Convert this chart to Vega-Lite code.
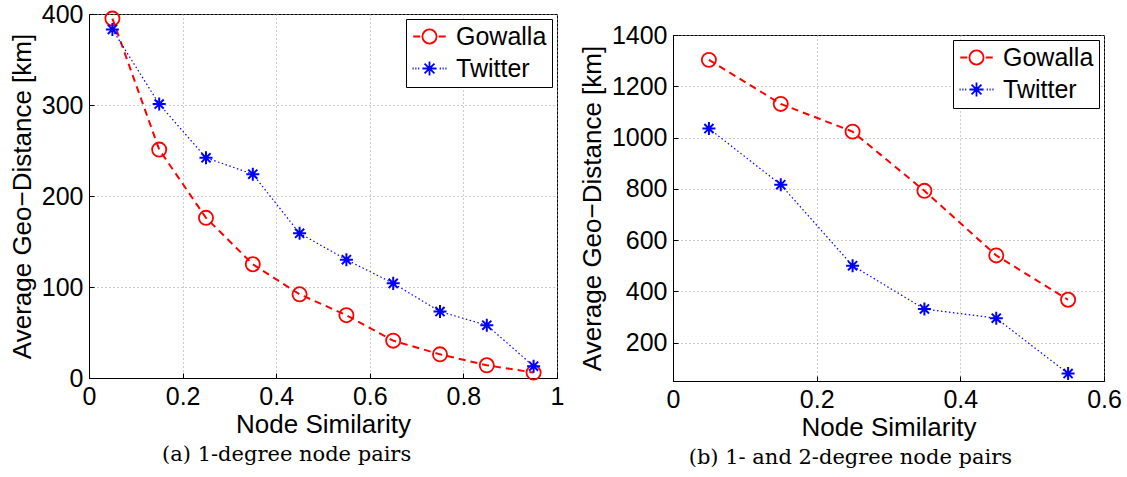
{
  "$schema": "https://vega.github.io/schema/vega-lite/v6.json",
  "padding": {"left": 8, "top": 1, "right": 2, "bottom": 2},
  "background": "white",
  "datasets": {
    "a": [
      {"sim": 0.05, "dist": 395, "series": "Gowalla"},
      {"sim": 0.15, "dist": 251, "series": "Gowalla"},
      {"sim": 0.25, "dist": 176, "series": "Gowalla"},
      {"sim": 0.35, "dist": 125, "series": "Gowalla"},
      {"sim": 0.45, "dist": 92, "series": "Gowalla"},
      {"sim": 0.55, "dist": 69, "series": "Gowalla"},
      {"sim": 0.65, "dist": 41, "series": "Gowalla"},
      {"sim": 0.75, "dist": 26, "series": "Gowalla"},
      {"sim": 0.85, "dist": 14, "series": "Gowalla"},
      {"sim": 0.95, "dist": 6, "series": "Gowalla"},
      {"sim": 0.05, "dist": 383, "series": "Twitter"},
      {"sim": 0.15, "dist": 301, "series": "Twitter"},
      {"sim": 0.25, "dist": 242, "series": "Twitter"},
      {"sim": 0.35, "dist": 224, "series": "Twitter"},
      {"sim": 0.45, "dist": 159, "series": "Twitter"},
      {"sim": 0.55, "dist": 130, "series": "Twitter"},
      {"sim": 0.65, "dist": 104, "series": "Twitter"},
      {"sim": 0.75, "dist": 73, "series": "Twitter"},
      {"sim": 0.85, "dist": 58, "series": "Twitter"},
      {"sim": 0.95, "dist": 13, "series": "Twitter"}
    ],
    "b": [
      {"sim": 0.05, "dist": 1303, "series": "Gowalla"},
      {"sim": 0.15, "dist": 1131, "series": "Gowalla"},
      {"sim": 0.25, "dist": 1023, "series": "Gowalla"},
      {"sim": 0.35, "dist": 792, "series": "Gowalla"},
      {"sim": 0.45, "dist": 540, "series": "Gowalla"},
      {"sim": 0.55, "dist": 367, "series": "Gowalla"},
      {"sim": 0.05, "dist": 1035, "series": "Twitter"},
      {"sim": 0.15, "dist": 816, "series": "Twitter"},
      {"sim": 0.25, "dist": 500, "series": "Twitter"},
      {"sim": 0.35, "dist": 331, "series": "Twitter"},
      {"sim": 0.45, "dist": 295, "series": "Twitter"},
      {"sim": 0.55, "dist": 79, "series": "Twitter"}
    ]
  },
  "config": {
    "font": "Liberation Sans",
    "view": {"stroke": "black", "strokeWidth": 1},
    "axis": {
      "labelFont": "Liberation Sans",
      "titleFont": "Liberation Sans",
      "labelFontSize": 25,
      "titleFontSize": 26,
      "titleFontWeight": "normal",
      "labelColor": "black",
      "titleColor": "black",
      "domainColor": "black",
      "domainWidth": 1,
      "ticks": true,
      "tickSize": -5,
      "tickColor": "black",
      "tickWidth": 1,
      "labelPadding": 11,
      "gridColor": "#999999",
      "gridDash": [1, 3],
      "gridWidth": 1,
      "labelFlush": false,
      "labelOverlap": false
    },
    "axisX": {"titlePadding": 2},
    "axisY": {"titlePadding": 6},
    "legend": {
      "orient": "top-right",
      "offset": 5,
      "strokeColor": "black",
      "fillColor": "white",
      "padding": 5,
      "cornerRadius": 0,
      "labelFont": "Liberation Sans",
      "labelFontSize": 25,
      "labelColor": "black",
      "symbolSize": 200,
      "symbolStrokeWidth": 1.8,
      "symbolOffset": 6,
      "labelOffset": 14,
      "rowPadding": 6
    },
    "title": {
      "font": "DejaVu Serif",
      "fontSize": 21,
      "fontWeight": "normal",
      "color": "black"
    }
  },
  "spacing": 13,
  "resolve": {"scale": {"color": "independent", "shape": "independent", "x": "independent", "y": "independent"}, "legend": {"color": "independent", "shape": "independent"}},
  "hconcat": [
    {
      "width": 468,
      "height": 364,
      "data": {"name": "a"},
      "title": {"text": "(a) 1-degree node pairs", "orient": "bottom", "frame": "bounds", "anchor": "middle", "offset": 7},
      "encoding": {
        "x": {"field": "sim", "type": "quantitative", "scale": {"domain": [0, 1], "nice": false}, "axis": {"values": [0, 0.2, 0.4, 0.6, 0.8, 1], "format": "~g", "title": "Node Similarity"}},
        "y": {"field": "dist", "type": "quantitative", "scale": {"domain": [0, 400], "nice": false}, "axis": {"values": [0, 100, 200, 300, 400], "format": "d", "title": "Average Geo−Distance [km]"}}
      },
      "layer": [
        {
          "transform": [{"filter": "datum.series === 'Gowalla'"}],
          "mark": {"type": "line", "color": "#ff0000", "strokeDash": [7, 5], "strokeWidth": 2}
        },
        {
          "transform": [{"filter": "datum.series === 'Twitter'"}],
          "mark": {"type": "line", "color": "#0000ff", "strokeDash": [1.5, 2.5], "strokeWidth": 1.2}
        },
        {
          "transform": [{"filter": "datum.series === 'Gowalla'"}],
          "mark": {"type": "point", "shape": "circle", "color": "#ff0000", "filled": false, "size": 200, "strokeWidth": 1.8, "opacity": 1}
        },
        {
          "transform": [{"filter": "datum.series === 'Twitter'"}],
          "mark": {"type": "point", "shape": "M0,-1L0,1M-1,0L1,0M-0.7,-0.7L0.7,0.7M-0.7,0.7L0.7,-0.7", "color": "#0000ff", "filled": false, "size": 170, "strokeWidth": 2, "opacity": 1}
        },
        {
          "transform": [{"filter": "datum.sim > 1"}],
          "mark": {"type": "point", "filled": false, "size": 200, "strokeWidth": 1.8, "opacity": 1},
          "encoding": {
            "color": {"field": "series", "type": "nominal", "scale": {"domain": ["Gowalla", "Twitter"], "range": ["#ff0000", "#0000ff"]}, "legend": {"title": null}},
            "shape": {"field": "series", "type": "nominal", "scale": {"domain": ["Gowalla", "Twitter"], "range": ["M-2.3,0L-1.3,0M-1,0A1,1,0,1,0,1,0A1,1,0,1,0,-1,0M1.3,0L2.3,0", "M-2.4,0L-2.25,0M-2.0,0L-1.85,0M-1.6,0L-1.45,0M0,-1L0,1M-1,0L1,0M-0.7,-0.7L0.7,0.7M-0.7,0.7L0.7,-0.7M1.45,0L1.6,0M1.85,0L2.0,0M2.25,0L2.4,0"]}, "legend": {"title": null}}
          }
        }
      ]
    },
    {
      "spacing": 2,
      "resolve": {"scale": {"color": "independent", "shape": "independent"}, "legend": {"color": "independent", "shape": "independent"}},
      "vconcat": [
        {
          "width": 431,
          "height": 1,
          "data": {"values": [{}]},
          "mark": {"type": "text", "text": ""},
          "encoding": {},
          "view": {"stroke": null}
        },
        {
          "width": 431,
          "height": 346,
          "data": {"name": "b"},
          "title": {"text": "(b) 1- and 2-degree node pairs", "orient": "bottom", "frame": "bounds", "anchor": "middle", "offset": 7},
          "encoding": {
            "x": {"field": "sim", "type": "quantitative", "scale": {"domain": [0, 0.6], "nice": false}, "axis": {"values": [0, 0.2, 0.4, 0.6], "format": "~g", "title": "Node Similarity"}},
            "y": {"field": "dist", "type": "quantitative", "scale": {"domain": [50, 1400], "nice": false, "zero": false}, "axis": {"values": [200, 400, 600, 800, 1000, 1200, 1400], "format": "d", "title": "Average Geo−Distance [km]"}}
          },
          "layer": [
            {
              "transform": [{"filter": "datum.series === 'Gowalla'"}],
              "mark": {"type": "line", "color": "#ff0000", "strokeDash": [7, 5], "strokeWidth": 2}
            },
            {
              "transform": [{"filter": "datum.series === 'Twitter'"}],
              "mark": {"type": "line", "color": "#0000ff", "strokeDash": [1.5, 2.5], "strokeWidth": 1.2}
            },
            {
              "transform": [{"filter": "datum.series === 'Gowalla'"}],
              "mark": {"type": "point", "shape": "circle", "color": "#ff0000", "filled": false, "size": 200, "strokeWidth": 1.8, "opacity": 1}
            },
            {
              "transform": [{"filter": "datum.series === 'Twitter'"}],
              "mark": {"type": "point", "shape": "M0,-1L0,1M-1,0L1,0M-0.7,-0.7L0.7,0.7M-0.7,0.7L0.7,-0.7", "color": "#0000ff", "filled": false, "size": 170, "strokeWidth": 2, "opacity": 1}
            },
            {
              "transform": [{"filter": "datum.sim > 1"}],
              "mark": {"type": "point", "filled": false, "size": 200, "strokeWidth": 1.8, "opacity": 1},
              "encoding": {
                "color": {"field": "series", "type": "nominal", "scale": {"domain": ["Gowalla", "Twitter"], "range": ["#ff0000", "#0000ff"]}, "legend": {"title": null}},
                "shape": {"field": "series", "type": "nominal", "scale": {"domain": ["Gowalla", "Twitter"], "range": ["M-2.3,0L-1.3,0M-1,0A1,1,0,1,0,1,0A1,1,0,1,0,-1,0M1.3,0L2.3,0", "M-2.4,0L-2.25,0M-2.0,0L-1.85,0M-1.6,0L-1.45,0M0,-1L0,1M-1,0L1,0M-0.7,-0.7L0.7,0.7M-0.7,0.7L0.7,-0.7M1.45,0L1.6,0M1.85,0L2.0,0M2.25,0L2.4,0"]}, "legend": {"title": null}}
              }
            }
          ]
        }
      ]
    }
  ]
}
